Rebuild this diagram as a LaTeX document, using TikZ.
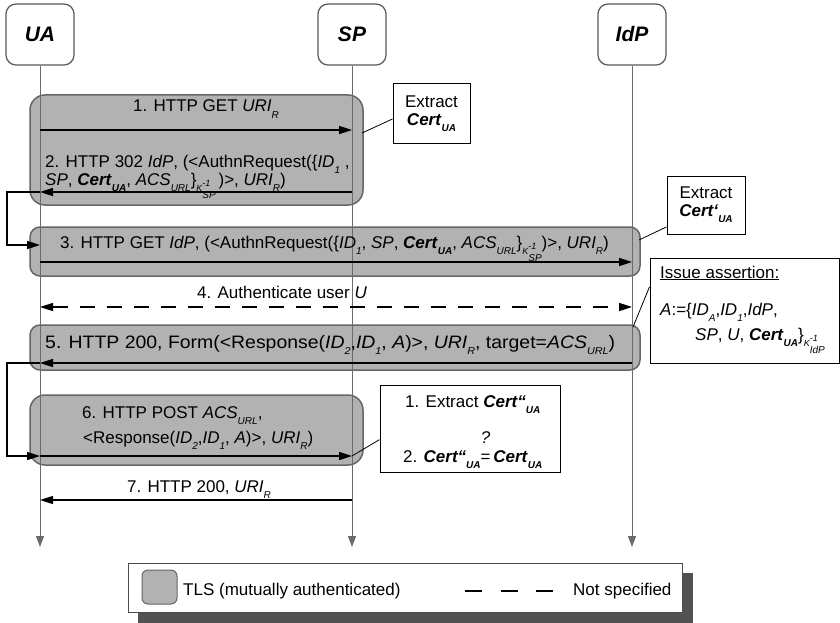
\documentclass[tikz,border=0pt]{standalone}
\usepackage{fontspec}
\setmainfont{Liberation Sans}
\usetikzlibrary{arrows.meta}

% lowered italic index, plain and bold
\newcommand\lo[1]{\raisebox{-6pt}{\fontsize{10}{10}\selectfont\itshape #1}}
\newcommand\lob[1]{\raisebox{-6pt}{\fontsize{10}{10}\selectfont\bfseries\itshape #1}}
\newcommand\cert[1][]{\textbf{\textit{Cert#1}}}
% inverse key K^{-1} with owner below
\newcommand\kinv[1]{\raisebox{-6pt}{\fontsize{9}{9}\selectfont\itshape K}\makebox[0pt][l]{\raisebox{-1pt}{\fontsize{9}{9}\selectfont\itshape -1}}\raisebox{-13pt}{\fontsize{10}{10}\selectfont\itshape #1}}
% "=" with a question mark on top
\newcommand\qeq{\ooalign{=\cr\hidewidth\raisebox{19pt}{\itshape ?}\hidewidth\cr}}

\begin{document}
\begin{tikzpicture}[x=1pt,y=-1pt,
  every node/.style={inner sep=0pt, font=\fontsize{17}{20}\selectfont},
  actor/.style={draw=black!65, line width=1.2pt, rounded corners=10pt, fill=white,
    minimum width=68pt, minimum height=61pt, font=\fontsize{21}{21}\selectfont\bfseries\itshape},
  life/.style={draw=black!58, line width=1pt, -{Triangle[length=11pt,width=8pt]}},
  tls/.style={draw=black!60, line width=1.5pt, fill=black!30, rounded corners=#1},
  msg/.style={line width=1.6pt, -{Triangle[length=13pt,width=8pt]}},
  note/.style={draw, line width=1pt, fill=white},
  tie/.style={line width=0.8pt},
  lbl/.style={anchor=base west},
  clbl/.style={anchor=base},
]
\useasboundingbox (0,0) rectangle (840,623);

% TLS protected exchanges
\draw[tls=15pt] (30,95) rectangle (363,205);
\draw[tls=10pt] (30,227) rectangle (640,276);
\draw[tls=10pt] (30,325) rectangle (640,370);
\draw[tls=15pt] (30,395) rectangle (363,465);

% participants and lifelines
\node[actor] (ua) at (40,34.5) {UA};
\node[actor] (sp) at (352,34.5) {SP};
\node[actor] (idp) at (632,34.5) {IdP};
\coordinate (bot) at (0,547);
\draw[life] (ua.south) -- (ua.south |- bot);
\draw[life] (sp.south) -- (sp.south |- bot);
\draw[life] (idp.south) -- (idp.south |- bot);

% message rows
\coordinate (r1) at (0,130);
\coordinate (r2) at (0,192);
\coordinate (r3in) at (0,245);
\coordinate (r3) at (0,262);
\coordinate (r4) at (0,307);
\coordinate (r5) at (0,363);
\coordinate (r6) at (0,456);
\coordinate (r7) at (0,500);
\coordinate (lx) at (7,0);

\draw[msg] (ua |- r1) -- (sp |- r1);
\draw[msg] (sp |- r2) -- (ua |- r2);
\draw[msg] (ua |- r2) -- (lx |- r2) -- (lx |- r3in) -- (ua |- r3in);
\draw[msg] (ua |- r3) -- (idp |- r3);
\draw[line width=1.6pt, dash pattern=on 15pt off 12pt,
  {Triangle[length=13pt,width=8pt]}-{Triangle[length=13pt,width=8pt]}] (ua |- r4) -- (idp |- r4);
\draw[msg] (idp |- r5) -- (ua |- r5);
\draw[msg] (ua |- r5) -- (lx |- r5) -- (lx |- r6) -- (ua |- r6);
\draw[msg] (ua |- r6) -- (sp |- r6);
\draw[msg] (sp |- r7) -- (ua |- r7);

% message labels
\node[clbl] (t1) at (206,112) {1. HTTP GET \textit{URI}\lo{R}};
\node[lbl] (t2a) at (45,167) {2. HTTP 302 \textit{IdP}, (<AuthnRequest(\{\textit{ID}\lo{1} ,};
\node[lbl] (t2b) at (45,185) {\textit{SP}, \cert\lob{UA}, \textit{ACS}\lo{URL}\}\kinv{SP}\,)>, \textit{URI}\lo{R})};
\node[lbl] (t3) at (60,248) {3. HTTP GET \textit{IdP}, (<AuthnRequest(\{\textit{ID}\lo{1}, \textit{SP}, \cert\lob{UA}, \textit{ACS}\lo{URL}\}\kinv{SP})>, \textit{URI}\lo{R})};
\node[clbl] (t4) at (282,298) {4. Authenticate user \textit{U}};
\node[lbl, font=\fontsize{18}{21}\selectfont] (t5) at (45,348) {\scalebox{1.08}[1]{5. HTTP 200, Form(<Response(\textit{ID}\lo{2},\textit{ID}\lo{1}, \textit{A})>, \textit{URI}\lo{R}, target=\textit{ACS}\lo{URL})}};
\node[lbl] (t6a) at (82,418) {6. HTTP POST \textit{ACS}\lo{URL},};
\node[lbl] (t6b) at (83,443) {<Response(\textit{ID}\lo{2},\textit{ID}\lo{1}, \textit{A})>, \textit{URI}\lo{R})};
\node[clbl] (t7) at (199,492) {7. HTTP 200, \textit{URI}\lo{R}};

% notes
\node[note, minimum width=77pt, minimum height=59pt, align=center, font=\fontsize{17}{18}\selectfont]
  (n1) at (431.5,113.5) {Extract\\\cert\lob{UA}};
\node[note, minimum width=78pt, minimum height=58pt, align=center, font=\fontsize{17}{18}\selectfont]
  (n2) at (706,205) {Extract\\\cert[‘]\lob{UA}};
\node[note, minimum width=189pt, minimum height=105pt] (n3) at (744.5,310.5) {};
\node[lbl] (n3a) at (660,278) {\underline{Issue assertion:}};
\node[lbl] (n3b) at (660,315) {\textit{A}:=\{\textit{ID}\lo{A},\textit{ID}\lo{1},\textit{IdP},};
\node[lbl] (n3c) at (695,340) {\textit{SP}, \textit{U}, \cert\lob{UA}\}\kinv{IdP}};
\node[note, minimum width=180pt, minimum height=87pt] (n4) at (470,428.5) {};
\node[lbl] (n4a) at (405,407) {1. Extract \cert[“]\lob{UA}};
\node[lbl] (n4b) at (403,462) {2. \cert[“]\lob{UA}\qeq\,\cert\lob{UA}};

\coordinate (k1) at (362,133);
\coordinate (k2) at (639,240);
\coordinate (k3) at (633,327);
\coordinate (k4) at (352,456);
\draw[tie] (k1) -- (n1.188);
\draw[tie] (k2) -- (n2.209);
\draw[tie] (k3) -- (n3.166);
\draw[tie] (k4) -- (n4.187);

% legend
\fill[black!68] (138,573) rectangle (693,623);
\node[draw=black!70, fill=white, line width=1pt, minimum width=554pt, minimum height=49pt] (leg) at (405,587.5) {};
\node[draw=black!60, fill=black!30, rounded corners=6pt, line width=1pt,
  minimum width=35pt, minimum height=34pt] (legtls) at (159.5,587) {};
\node[lbl] (legt1) at (183,595) {TLS (mutually authenticated)};
\coordinate (d1) at (465,591);
\coordinate (d2) at (553,591);
\draw[line width=1.8pt, dash pattern=on 17pt off 18.5pt] (d1) -- (d2);
\node[lbl] (legt2) at (573,595) {Not specified};
\end{tikzpicture}
\end{document}
